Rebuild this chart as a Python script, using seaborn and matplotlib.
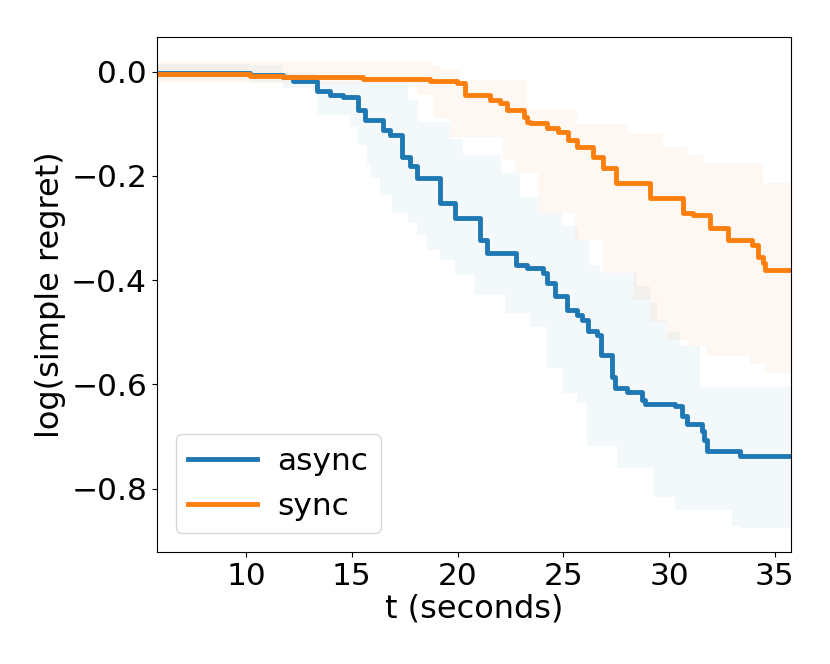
import numpy as np
import pandas as pd
import matplotlib
matplotlib.use("Agg")
import matplotlib.pyplot as plt
import seaborn as sns

# ---- data ----
methods = ["async", "sync"]
x_start = 5.78
x_end = 35.76

async_t = [5.78, 10.17, 11.74, 12.2, 13.33, 13.96, 14.57, 15.28, 15.61, 16.47, 16.79,
           17.35, 17.74, 18.06, 19.16, 19.87, 21.05, 21.37, 22.78, 23.26, 24.03, 24.22,
           24.6, 25.15, 25.64, 25.87, 26.16, 26.6, 26.8, 27.29, 27.43, 28.0, 28.7, 28.85,
           30.27, 30.6, 30.84, 31.55, 31.64, 31.77, 33.34]
async_v = [-0.003, -0.006, -0.011, -0.018, -0.037, -0.045, -0.048, -0.073, -0.093, -0.112, -0.121,
           -0.163, -0.182, -0.204, -0.252, -0.281, -0.323, -0.347, -0.371, -0.377, -0.387, -0.405,
           -0.431, -0.457, -0.466, -0.476, -0.498, -0.505, -0.543, -0.585, -0.607, -0.615, -0.630, -0.638,
           -0.642, -0.661, -0.675, -0.690, -0.706, -0.728, -0.738]

sync_t = [5.78, 10.17, 11.74, 15.52, 18.69, 19.96, 20.34, 21.52, 21.99, 22.33, 23.13, 23.27,
          23.41, 24.22, 24.74, 25.21, 25.64, 26.39, 26.86, 27.51, 29.08, 30.64, 31.12, 31.92,
          32.77, 33.91, 34.19, 34.43, 34.52]
sync_v = [-0.004, -0.008, -0.011, -0.015, -0.018, -0.022, -0.045, -0.054, -0.061, -0.073, -0.087, -0.096,
          -0.099, -0.109, -0.115, -0.131, -0.144, -0.163, -0.185, -0.214, -0.243, -0.271, -0.276, -0.300,
          -0.323, -0.332, -0.355, -0.368, -0.380]

# shaded band edges (step functions)
async_lo_t = [5.78, 10.17, 11.74, 13.34, 14.9, 15.23, 15.71, 15.85, 16.32, 16.89, 17.64, 18.07,
              18.54, 19.16, 19.87, 20.81, 22.22, 23.4, 24.22, 24.97, 25.64, 26.11, 27.52, 29.23,
              30.27, 32.96, 33.34]
async_lo = [-0.015, -0.02, -0.031, -0.083, -0.106, -0.14, -0.179, -0.204, -0.236, -0.271, -0.29, -0.313,
            -0.342, -0.361, -0.39, -0.428, -0.463, -0.489, -0.569, -0.616, -0.635, -0.719, -0.76, -0.815,
            -0.84, -0.872, -0.875]
async_hi_t = [5.78, 10.17, 11.74, 13.34, 17.64, 18.12, 19.63, 20.25, 22.07, 22.94, 23.79, 24.92,
              25.68, 26.25, 26.73, 28.48, 29.08, 29.41, 29.9, 30.51, 31.45]
async_hi = [0.015, 0.012, -0.002, -0.02, -0.054, -0.097, -0.13, -0.16, -0.194, -0.24, -0.271, -0.297,
            -0.323, -0.37, -0.386, -0.412, -0.444, -0.476, -0.50, -0.527, -0.605]

sync_lo_t = [5.78, 18.07, 18.83, 19.63, 22.13, 22.7, 23.79, 25.53, 26.86, 28.28, 29.08, 29.9,
             30.84, 31.8, 33.81, 34.52]
sync_lo = [-0.022, -0.045, -0.089, -0.125, -0.169, -0.194, -0.271, -0.323, -0.386, -0.438, -0.48, -0.514,
           -0.527, -0.546, -0.56, -0.578]
sync_hi_t = [5.78, 18.83, 19.2, 20.1, 23.27, 25.64, 28.0, 29.7, 30.84, 31.6, 34.43]
sync_hi = [0.018, 0.01, 0.003, -0.016, -0.073, -0.1, -0.118, -0.144, -0.16, -0.176, -0.214]

colors = ["#1f77b4", "#ff7f0e"]


def step_eval(ts, vs, grid):
    idx = np.searchsorted(np.asarray(ts), grid, side="right") - 1
    return np.asarray(vs)[np.clip(idx, 0, len(vs) - 1)]


# ---- tidy frame for the lines ----
rows = []
for m, ts, vs in [("async", async_t, async_v), ("sync", sync_t, sync_v)]:
    for t, v in zip(list(ts) + [x_end], list(vs) + [vs[-1]]):
        rows.append((m, t, v))
df = pd.DataFrame(rows, columns=["method", "t", "v"])

plt.rcParams["font.family"] = ["DejaVu Sans"]
fig = plt.figure(figsize=(8.3, 6.64), dpi=100)
ax = fig.add_axes([0.189, 0.169, 0.764, 0.775])

for lt, lo, ht, hi, c in [(async_lo_t, async_lo, async_hi_t, async_hi, colors[0]),
                          (sync_lo_t, sync_lo, sync_hi_t, sync_hi, colors[1])]:
    grid = np.unique(np.concatenate([lt, ht, [x_end]]))
    ax.fill_between(grid, step_eval(lt, lo, grid), step_eval(ht, hi, grid),
                    step="post", color=c, alpha=0.05, linewidth=0)

sns.lineplot(data=df, x="t", y="v", hue="method", hue_order=methods, palette=colors,
             drawstyle="steps-post", linewidth=3.5, errorbar=None, sort=True, ax=ax)

ax.set_xlim(x_start, x_end)
ax.set_ylim(-0.921, 0.066)
ax.set_xticks([10, 15, 20, 25, 30, 35])
ax.set_yticks([0.0, -0.2, -0.4, -0.6, -0.8])
ax.tick_params(labelsize=22.5)
ax.set_xlabel("t (seconds)", fontsize=23, labelpad=2)
ax.set_ylabel("log(simple regret)", fontsize=23)

leg = ax.legend(loc="lower left", fontsize=22.5, handlelength=2.2, handletextpad=0.65,
                borderaxespad=0.6)
leg.set_title(None)

fig.savefig("out.png", dpi=100)
